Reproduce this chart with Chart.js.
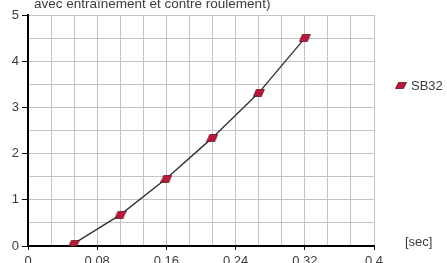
<!DOCTYPE html>
<html>
<head>
<meta charset="utf-8">
<script src="https://cdn.jsdelivr.net/npm/chart.js@4.4.0/dist/chart.umd.min.js"></script>
<style>
    html, body { margin: 0; padding: 0; background: #fff; }
    #wrap { width: 447px; height: 263px; position: relative; }
</style>
</head>
<body>
<div id="wrap"><canvas id="forceChart"></canvas></div>
<script>
const seriesName = 'SB32';
const timeValues = [0.053, 0.107, 0.16, 0.213, 0.267, 0.32];
const forceValues = [0.05, 0.68, 1.46, 2.34, 3.32, 4.5];
const xTickLabels = ['0', '0.08', '0.16', '0.24', '0.32', '0.4'];
const yTickLabels = ['0', '1', '2', '3', '4', '5'];
const titleText = 'avec entraînement et contre roulement)';
const xUnit = '[sec]';

const textColor = '#3c3c3c';
const fontFamily = '"Liberation Sans", Arial, sans-serif';

// skewed square marker
function makeMarker(w, h, skew) {
    const c = document.createElement('canvas');
    c.width = w;
    c.height = h;
    const g = c.getContext('2d');
    g.beginPath();
    g.moveTo(skew + 0.5, 0.5);
    g.lineTo(w - 0.5, 0.5);
    g.lineTo(w - skew - 0.5, h - 0.5);
    g.lineTo(0.5, h - 0.5);
    g.closePath();
    g.fillStyle = '#b8193b';
    g.fill();
    g.strokeStyle = '#5e1722';
    g.lineWidth = 0.8;
    g.stroke();
    return c;
}
const pointMarker = makeMarker(12, 8, 3);
const legendMarker = makeMarker(12, 7, 3);

const extraText = {
    id: 'extraText',
    afterDraw(chart) {
        const ctx = chart.ctx;
        ctx.save();
        ctx.fillStyle = textColor;
        ctx.font = '13.5px ' + fontFamily;
        ctx.textAlign = 'left';
        ctx.textBaseline = 'alphabetic';
        ctx.fillText(titleText, 34, 8);

        ctx.font = '13px ' + fontFamily;
        ctx.textBaseline = 'middle';
        ctx.fillText(xUnit, 405, 242);

        ctx.drawImage(legendMarker, 395, 82);
        ctx.fillText(chart.data.datasets[0].label, 411, 86);
        ctx.restore();
    }
};

const ctx = document.getElementById('forceChart').getContext('2d');
new Chart(ctx, {
    type: 'line',
    data: {
        datasets: [{
            label: seriesName,
            data: timeValues.map((t, i) => ({ x: t, y: forceValues[i] })),
            borderColor: '#333',
            borderWidth: 1.4,
            tension: 0,
            pointStyle: pointMarker,
            pointRadius: 5
        }]
    },
    options: {
        responsive: true,
        maintainAspectRatio: false,
        animation: false,
        layout: { padding: { top: 15, right: 73, left: 0, bottom: 0 } },
        plugins: {
            legend: { display: false },
            title: { display: false },
            tooltip: { enabled: false }
        },
        scales: {
            x: {
                type: 'linear',
                min: 0,
                max: 0.4,
                afterFit: (s) => { s.height = 17; },
                afterBuildTicks: (s) => {
                    s.ticks = [];
                    for (let i = 0; i <= 15; i++) s.ticks.push({ value: i * 0.4 / 15 });
                },
                ticks: {
                    autoSkip: false,
                    maxRotation: 0,
                    padding: 4,
                    color: textColor,
                    font: { size: 13, family: fontFamily },
                    callback: (v, i) => (i % 3 === 0 ? xTickLabels[i / 3] : '')
                },
                grid: {
                    color: '#c4c4c4',
                    lineWidth: 1,
                    tickLength: 4,
                    tickColor: (c) => (c.index % 3 === 0 ? '#000' : 'rgba(0,0,0,0)')
                },
                border: { color: '#000', width: 2 }
            },
            y: {
                min: 0,
                max: 5,
                afterFit: (s) => { s.width = 28; },
                afterBuildTicks: (s) => {
                    s.ticks = [];
                    for (let i = 0; i <= 10; i++) s.ticks.push({ value: i * 0.5 });
                },
                ticks: {
                    autoSkip: false,
                    padding: 3,
                    color: textColor,
                    font: { size: 13, family: fontFamily },
                    callback: (v, i) => (i % 2 === 0 ? yTickLabels[i / 2] : '')
                },
                grid: {
                    color: '#c4c4c4',
                    lineWidth: 1,
                    tickLength: 6,
                    tickColor: (c) => (c.index % 2 === 0 ? '#000' : 'rgba(0,0,0,0)')
                },
                border: { color: '#000', width: 2 }
            }
        }
    },
    plugins: [extraText]
});
</script>
</body>
</html>
